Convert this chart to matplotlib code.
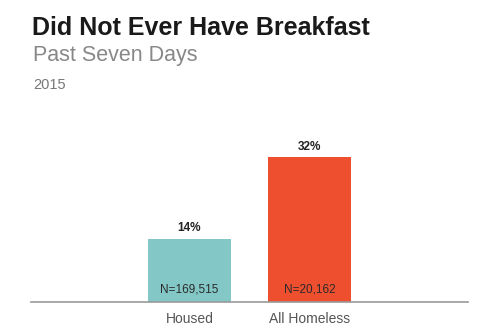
import matplotlib.pyplot as plt

# Did not ever have breakfast in the past seven days, 2015
groups = ['Housed', 'All Homeless']
percent = [14, 32]
sample_n = ['N=169,515', 'N=20,162']
bar_colors = ['#83C8C6', '#EE4F2F']

plt.rcParams['font.family'] = ['Liberation Sans', 'DejaVu Sans']

fig = plt.figure(figsize=(5.01, 3.36), dpi=100)
ax = fig.add_axes([31 / 501, 34 / 336, (468 - 31) / 501, 200 / 336])

x = range(len(groups))
bars = ax.bar(x, percent, width=0.69, color=bar_colors)

for xi, val, n in zip(x, percent, sample_n):
    ax.text(xi, val + 0.9, f'{val}%', ha='center', va='bottom',
            fontsize=8.5, fontweight='bold', color='#222222')
    ax.text(xi, 2.8, n, ha='center', va='center', fontsize=8.5, color='#2a2a2a')

ax.set_xlim(-1.32, 2.32)
ax.set_ylim(0, 44.1)
ax.set_xticks(list(x))
ax.set_xticklabels(groups, fontsize=10, color='#555555')
ax.tick_params(axis='x', length=0, pad=7)
ax.set_yticks([])
for side in ['top', 'left', 'right']:
    ax.spines[side].set_visible(False)
ax.spines['bottom'].set_color('#999999')
ax.spines['bottom'].set_linewidth(1.2)

fig.text(32 / 501, 1 - 28 / 336, 'Did Not Ever Have Breakfast', fontsize=18,
         fontweight='bold', color='#1a1a1a', va='center', ha='left')
fig.text(33 / 501, 1 - 55 / 336, 'Past Seven Days', fontsize=15.5,
         color='#888888', va='center', ha='left')
fig.text(33 / 501, 1 - 85 / 336, '2015', fontsize=10.5,
         color='#777777', va='center', ha='left')

fig.savefig('out.png', dpi=100)
